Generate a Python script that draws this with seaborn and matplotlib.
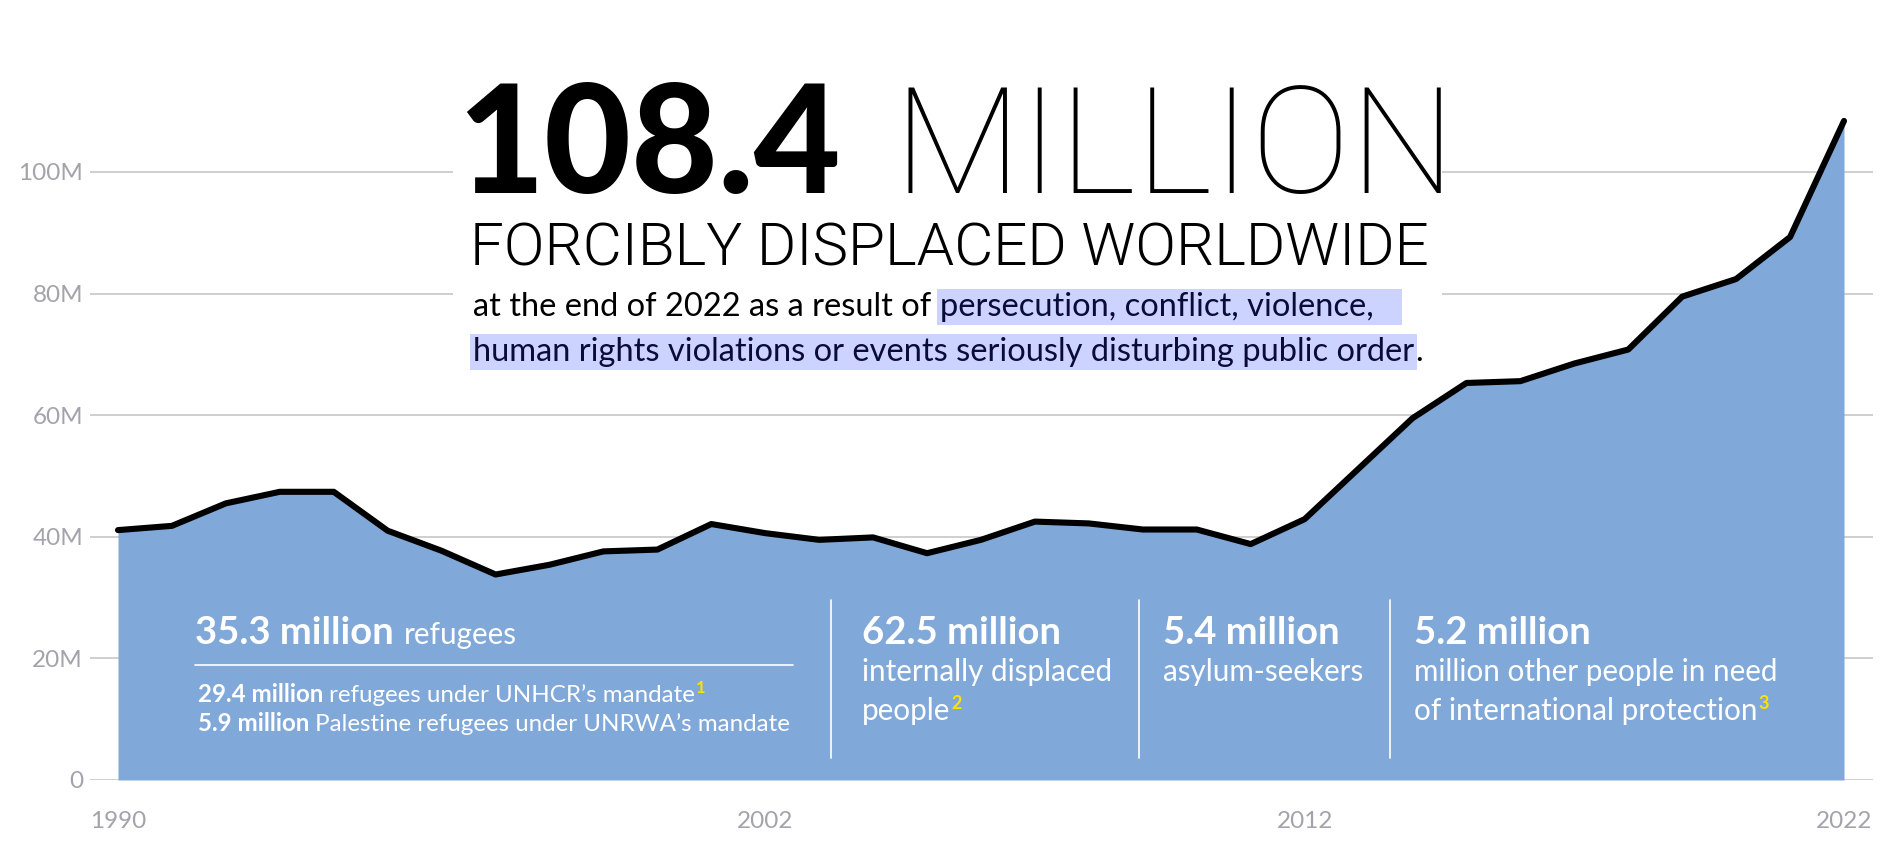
import matplotlib
matplotlib.use("Agg")
import matplotlib.pyplot as plt
import pandas as pd
import seaborn as sns
from matplotlib.patches import Rectangle

# --- data -----------------------------------------------------------------
years = list(range(1990, 2023))
displaced_m = [41.1, 41.8, 45.5, 47.4, 47.4, 41.0, 37.7, 33.8, 35.4, 37.6,
               37.9, 42.1, 40.6, 39.5, 39.9, 37.3, 39.5, 42.5, 42.2, 41.2,
               41.2, 38.8, 42.9, 51.2, 59.5, 65.3, 65.6, 68.5, 70.8, 79.5,
               82.4, 89.3, 108.4]
y_ticks = [0, 20, 40, 60, 80, 100]
y_tick_labels = ["0", "20M", "40M", "60M", "80M", "100M"]
x_ticks = [1990, 2002, 2012, 2022]

headline_number = "108.4"
headline_unit = "MILLION"
headline_sub = "FORCIBLY DISPLACED WORLDWIDE"
intro_plain = "at the end of 2022 as a result of"
intro_mark_1 = "persecution, conflict, violence,"
intro_mark_2 = "human rights violations or events seriously disturbing public order"

refugees_total = "35.3 million"
refugees_label = "refugees"
refugees_split = [("29.4 million", "refugees under UNHCR\u2019s mandate", "1"),
                  ("5.9 million", "Palestine refugees under UNRWA\u2019s mandate", "")]
other_groups = [("62.5 million", ["internally displaced", "people"], "2"),
                ("5.4 million", ["asylum-seekers"], ""),
                ("5.2 million", ["million other people in need", "of international protection"], "3")]

FILL = "#80a8d9"
GRID = "#cccccc"
TICK = "#a3a3ab"
MARK = "#cdd3ff"
NAVY = "#0b0b38"
NOTE = "#ffe100"

W, H = 1892, 866

sns.set_theme(style="white")
plt.rcParams["font.family"] = ["Lato", "DejaVu Sans"]
THIN = ["Roboto", "Lato", "DejaVu Sans"]

fig = plt.figure(figsize=(W / 100, H / 100), dpi=100)
fig.patch.set_facecolor("white")
renderer = fig.canvas.get_renderer()


def fx(x):
    return x / W


def fy(y):
    return 1 - y / H


# plot area: 0 at y=780px, 6.08 px per million, 1990 at x=118px, 53.94 px per year
ax = fig.add_axes([fx(90), fy(780), (1873 - 90) / W, 760 / H])
ax.set_xlim(1990 - 28 / 53.94, 2022 + 29 / 53.94)
ax.set_ylim(0, 760 / 6.08)

df = pd.DataFrame({"year": years, "displaced": displaced_m})
ax.fill_between(df["year"], 0, df["displaced"], color=FILL, lw=0, zorder=2)
sns.lineplot(data=df, x="year", y="displaced", ax=ax, color="black",
             linewidth=4.4, solid_joinstyle="round", solid_capstyle="round",
             zorder=3)

ax.set_axisbelow(True)
ax.grid(axis="y", color=GRID, lw=1.3)
ax.grid(axis="x", visible=False)
for s in ax.spines.values():
    s.set_visible(False)
ax.set_yticks(y_ticks, y_tick_labels)
ax.set_xticks(x_ticks, [str(v) for v in x_ticks])
ax.tick_params(axis="y", length=0, pad=5, labelsize=17.5, labelcolor=TICK)
ax.tick_params(axis="x", length=0, pad=22, labelsize=17.5, labelcolor=TICK)
ax.set_xlabel("")
ax.set_ylabel("")

# white panel behind the headline, hides the grid there
ax.add_patch(Rectangle((fx(453), fy(374)), (1442 - 453) / W, (374 - 20) / H,
                       transform=fig.transFigure, facecolor="white",
                       edgecolor="none", zorder=1))


def put(x, y, text, **kw):
    t = fig.text(fx(x), fy(y), text, ha="left", va="baseline", zorder=5, **kw)
    return t.get_window_extent(renderer).width


# --- headline -------------------------------------------------------------
put(457, 193, headline_number, fontsize=108, fontweight=900, color="black")
put(893, 193, headline_unit, fontsize=107, fontweight=100, color="black",
    family=THIN)
put(470, 265, headline_sub, fontsize=43.3, fontweight=300, color="black",
    family=THIN)

w = put(473, 316, intro_plain, fontsize=23.5, color="black")
put(473 + w + 9, 316, intro_mark_1 + "   ", fontsize=23.5, color=NAVY,
    bbox=dict(boxstyle="square,pad=0.1", fc=MARK, ec="none"))
w = put(473, 361, intro_mark_2, fontsize=23.5, color=NAVY,
        bbox=dict(boxstyle="square,pad=0.1", fc=MARK, ec="none"))
put(473 + w + 1, 361, ".", fontsize=23.5, color="black")

# --- breakdown inside the area -------------------------------------------
w = put(195, 644, refugees_total, fontsize=27.5, fontweight="bold", color="white")
put(195 + w + 10, 644, refugees_label, fontsize=21.3, color="white")
fig.add_artist(plt.Line2D([fx(195), fx(793)], [fy(665), fy(665)],
                          color="white", lw=1.2, zorder=5))
for i, (num, rest, note) in enumerate(refugees_split):
    yb = 702 + i * 29
    w = put(198, yb, num, fontsize=17.4, fontweight="bold", color="white")
    w2 = put(198 + w + 6, yb, rest, fontsize=17.4, color="white")
    if note:
        put(198 + w + 6 + w2 + 1, yb - 9, note, fontsize=12,
            fontweight="bold", color=NOTE)

col_x = [862, 1163, 1414]
for x0, (num, lines, note) in zip(col_x, other_groups):
    put(x0, 644, num, fontsize=27.5, fontweight="bold", color="white")
    for j, line in enumerate(lines):
        w = put(x0, 681 + j * 39, line, fontsize=21.3, color="white")
        if note and j == len(lines) - 1:
            put(x0 + w + 1, 681 + j * 39 - 11, note, fontsize=13,
                fontweight="bold", color=NOTE)

for xs in [831, 1139, 1390]:
    fig.add_artist(plt.Line2D([fx(xs), fx(xs)], [fy(600), fy(758)],
                              color="white", lw=1.2, zorder=5))

fig.savefig("out.png", dpi=100, facecolor="white")
